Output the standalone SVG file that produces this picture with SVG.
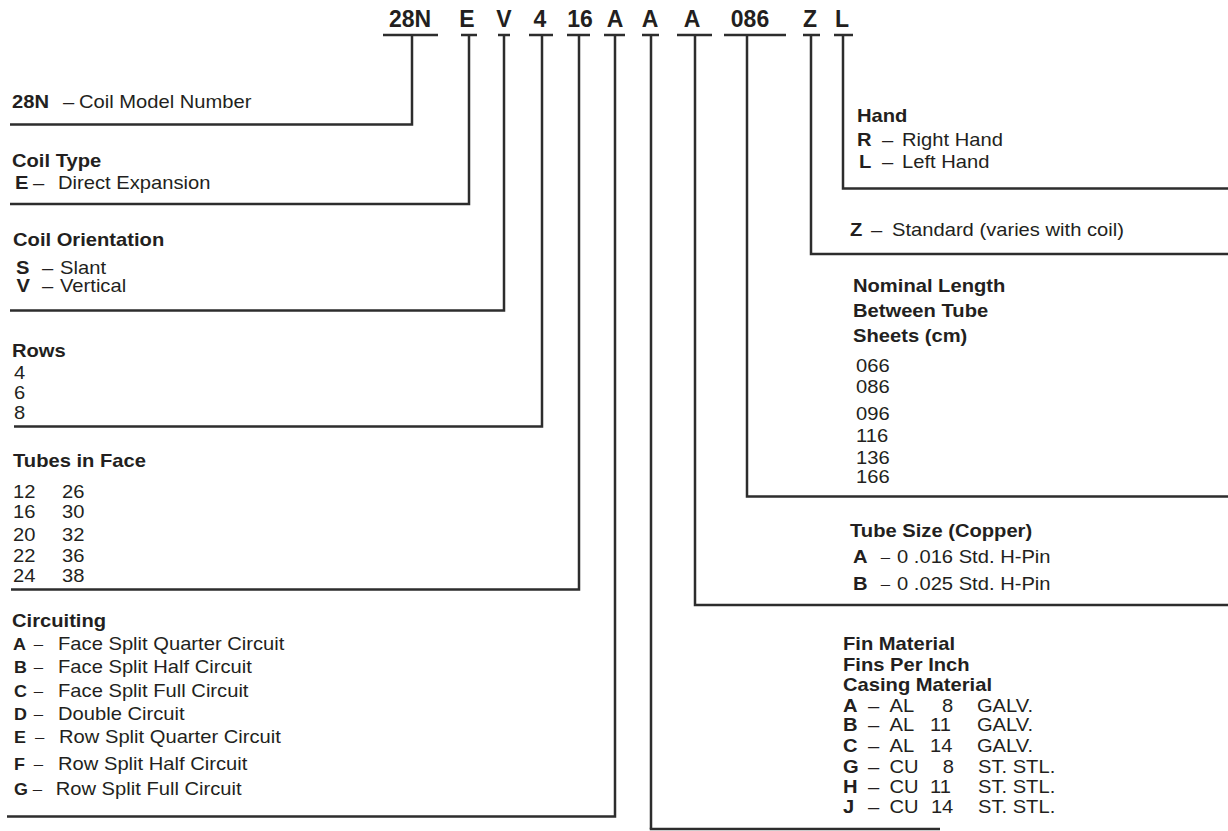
<svg xmlns="http://www.w3.org/2000/svg" width="1228" height="831" viewBox="0 0 1228 831">
<style>
.t { font-family: "Liberation Sans", Arial, sans-serif; font-size: 18px; fill: #231f20; }
.b { font-weight: bold; }
.d { font-size: 15px; }
.s { font-size: 16px; }
.h { font-family: "Liberation Sans", Arial, sans-serif; font-size: 23px; font-weight: bold; fill: #231f20; text-anchor: middle; }
.c { fill: none; stroke: #2d2d2d; stroke-width: 2.5; stroke-linejoin: miter; }
</style>
<defs>
<linearGradient id="fade" gradientUnits="userSpaceOnUse" x1="651" y1="0" x2="940" y2="0">
<stop offset="0" stop-color="#2d2d2d"/>
<stop offset="0.72" stop-color="#2d2d2d"/>
<stop offset="1" stop-color="#2d2d2d" stop-opacity="0"/>
</linearGradient>
</defs>
<rect width="1228" height="831" fill="#ffffff"/>

<g id="header">
<text class="h" x="410" y="27">28N</text>
<text class="h" x="467" y="27">E</text>
<text class="h" x="504" y="27">V</text>
<text class="h" x="540" y="27">4</text>
<text class="h" x="580" y="27">16</text>
<text class="h" x="615" y="27">A</text>
<text class="h" x="650" y="27">A</text>
<text class="h" x="692" y="27">A</text>
<text class="h" x="750" y="27">086</text>
<text class="h" x="810" y="27">Z</text>
<text class="h" x="842" y="27">L</text>
</g>

<g id="connectors">
<path class="c" d="M383,35H438M412,35V124.5H10"/>
<path class="c" d="M461,35H477M469,35V204H10"/>
<path class="c" d="M498,35H510M504,35V310.5H10"/>
<path class="c" d="M529,35H553M542,35V426.5H14"/>
<path class="c" d="M567,35H590M579,35V589.5H11"/>
<path class="c" d="M604,35H625M615,35V816.5H7"/>
<path class="c" d="M642,35H659M651,35V829"/>
<path class="c" d="M649.75,829H940" stroke="url(#fade)"/>
<path class="c" d="M677,35H712M695,35V605H1228"/>
<path class="c" d="M724,35H786M747,35V496.5H1228"/>
<path class="c" d="M803,35H820M811,35V254H1228"/>
<path class="c" d="M834,35H853M843,35V188.5H1228"/>
</g>

<g id="model" class="t" transform="translate(12 0) scale(1.12 1)">
<text y="108"><tspan class="b" x="0">28N</tspan><tspan x="45.5">–</tspan><tspan x="59.8">Coil Model Number</tspan></text>
</g>

<g id="coil-type" class="t" transform="translate(12 0) scale(1.12 1)">
<text class="b" x="0" y="167">Coil Type</text>
<text y="189"><tspan class="b" x="2.7">E</tspan><tspan x="18.75">–</tspan><tspan x="41.1">Direct Expansion</tspan></text>
</g>

<g id="coil-orientation" class="t" transform="translate(12 0) scale(1.12 1)">
<text class="b" x="0.9" y="246">Coil Orientation</text>
<text y="274"><tspan class="b" x="3.6">S</tspan><tspan x="26.8">–</tspan><tspan x="42.9">Slant</tspan></text>
<text y="292"><tspan class="b" x="4">V</tspan><tspan x="26.8">–</tspan><tspan x="42.9">Vertical</tspan></text>
</g>

<g id="rows" class="t" transform="translate(12 0) scale(1.12 1)">
<text class="b" x="0" y="357">Rows</text>
<text x="1.8" y="379">4</text>
<text x="1.8" y="399">6</text>
<text x="1.8" y="419">8</text>
</g>

<g id="tubes-in-face" class="t" transform="translate(12 0) scale(1.12 1)">
<text class="b" x="0.9" y="467">Tubes in Face</text>
<text y="498"><tspan x="0.9">12</tspan><tspan x="44.6">26</tspan></text>
<text y="518"><tspan x="0.9">16</tspan><tspan x="44.6">30</tspan></text>
<text y="541"><tspan x="0.9">20</tspan><tspan x="44.6">32</tspan></text>
<text y="562"><tspan x="0.9">22</tspan><tspan x="44.6">36</tspan></text>
<text y="582"><tspan x="0.9">24</tspan><tspan x="44.6">38</tspan></text>
</g>

<g id="circuiting" class="t" transform="translate(12 0) scale(1.12 1)">
<text class="b" x="0" y="627">Circuiting</text>
<text y="650"><tspan class="b s" x="0.9">A</tspan><tspan class="d" x="19.5" dy="-1">–</tspan><tspan x="41.1" dy="1">Face Split Quarter Circuit</tspan></text>
<text y="673"><tspan class="b s" x="1.8">B</tspan><tspan class="d" x="19.5" dy="-1">–</tspan><tspan x="41.1" dy="1">Face Split Half Circuit</tspan></text>
<text y="697"><tspan class="b s" x="1.8">C</tspan><tspan class="d" x="19.5" dy="-1">–</tspan><tspan x="41.1" dy="1">Face Split Full Circuit</tspan></text>
<text y="720"><tspan class="b s" x="1.8">D</tspan><tspan class="d" x="19.5" dy="-1">–</tspan><tspan x="41.1" dy="1">Double Circuit</tspan></text>
<text y="743"><tspan class="b s" x="1.8">E</tspan><tspan class="d" x="20.5" dy="-1">–</tspan><tspan x="42" dy="1">Row Split Quarter Circuit</tspan></text>
<text y="770"><tspan class="b s" x="1.8">F</tspan><tspan class="d" x="19.5" dy="-1">–</tspan><tspan x="41.1" dy="1">Row Split Half Circuit</tspan></text>
<text y="795"><tspan class="b s" x="1.8">G</tspan><tspan class="d" x="18.5" dy="-1">–</tspan><tspan x="39" dy="1">Row Split Full Circuit</tspan></text>
</g>

<g id="hand" class="t" transform="translate(857 0) scale(1.12 1)">
<text class="b" x="0" y="122">Hand</text>
<text y="146"><tspan class="b" x="0">R</tspan><tspan x="22.3">–</tspan><tspan x="40.2">Right Hand</tspan></text>
<text y="168"><tspan class="b" x="1.8">L</tspan><tspan x="22.3">–</tspan><tspan x="40.2">Left Hand</tspan></text>
</g>

<g id="standard" class="t" transform="translate(850 0) scale(1.12 1)">
<text y="236"><tspan class="b" x="0">Z</tspan><tspan x="18.75">–</tspan><tspan x="37.5">Standard (varies with coil)</tspan></text>
</g>

<g id="nominal-length" class="t" transform="translate(853 0) scale(1.12 1)">
<text class="b" x="0" y="292">Nominal Length</text>
<text class="b" x="0" y="317">Between Tube</text>
<text class="b" x="0" y="342">Sheets (cm)</text>
<text x="2.7" y="372">066</text>
<text x="2.7" y="393">086</text>
<text x="2.7" y="420">096</text>
<text x="2.7" y="442">116</text>
<text x="2.7" y="464">136</text>
<text x="2.7" y="483">166</text>
</g>

<g id="tube-size" class="t" transform="translate(850 0) scale(1.12 1)">
<text class="b" x="0" y="537">Tube Size (Copper)</text>
<text y="563"><tspan class="b" x="2.7">A</tspan><tspan class="d" x="27.5" dy="-1">–</tspan><tspan x="42" dy="1">0 .016 Std. H-Pin</tspan></text>
<text y="590"><tspan class="b" x="2.7">B</tspan><tspan class="d" x="27.5" dy="-1">–</tspan><tspan x="42" dy="1">0 .025 Std. H-Pin</tspan></text>
</g>

<g id="fin-material" class="t" transform="translate(843 0) scale(1.12 1)">
<text class="b" x="0" y="650">Fin Material</text>
<text class="b" x="0" y="671">Fins Per Inch</text>
<text class="b" x="0" y="691">Casing Material</text>
<text y="712"><tspan class="b" x="0">A</tspan><tspan x="22.3">–</tspan><tspan x="41.5">AL</tspan><tspan x="88.4">8</tspan><tspan x="119.6">GALV.</tspan></text>
<text y="731"><tspan class="b" x="0">B</tspan><tspan x="22.3">–</tspan><tspan x="41.5">AL</tspan><tspan x="77.7">11</tspan><tspan x="119.6">GALV.</tspan></text>
<text y="752"><tspan class="b" x="0">C</tspan><tspan x="22.3">–</tspan><tspan x="41.5">AL</tspan><tspan x="77.7">14</tspan><tspan x="119.6">GALV.</tspan></text>
<text y="773"><tspan class="b" x="0">G</tspan><tspan x="22.3">–</tspan><tspan x="41.5">CU</tspan><tspan x="89">8</tspan><tspan x="120.5">ST. STL.</tspan></text>
<text y="793"><tspan class="b" x="0">H</tspan><tspan x="22.3">–</tspan><tspan x="41.5">CU</tspan><tspan x="77.7">11</tspan><tspan x="120.5">ST. STL.</tspan></text>
<text y="813"><tspan class="b" x="0">J</tspan><tspan x="22.3">–</tspan><tspan x="41.5">CU</tspan><tspan x="78.5">14</tspan><tspan x="120.5">ST. STL.</tspan></text>
</g>
</svg>
